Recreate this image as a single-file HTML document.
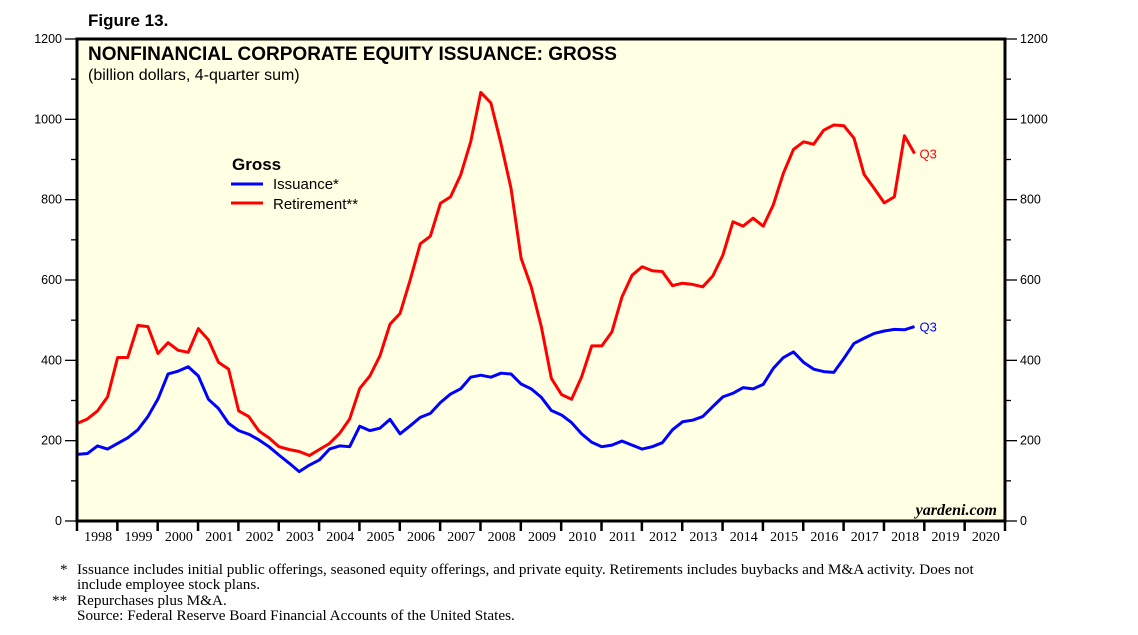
<!DOCTYPE html>
<html><head><meta charset="utf-8"><style>
body{margin:0;background:#fff;width:1138px;height:635px;overflow:hidden;}
svg{display:block}
.sans{font-family:"Liberation Sans",sans-serif}
.serif{font-family:"Liberation Serif",serif}
</style></head><body>
<svg width="1138" height="635" viewBox="0 0 1138 635">
<text x="88" y="26" class="sans" font-weight="bold" font-size="17">Figure 13.</text>
<rect x="77" y="39" width="928" height="482" fill="#FFFFE4"/>
<g id="axes"></g>
<g id="series"></g>
<rect x="77" y="39" width="928" height="482" fill="none" stroke="#000" stroke-width="3"/>
<text x="88" y="60" class="sans" font-weight="bold" font-size="19">NONFINANCIAL CORPORATE EQUITY ISSUANCE: GROSS</text>
<text x="88" y="80" class="sans" font-size="16">(billion dollars, 4-quarter sum)</text>
<g>
<text x="232" y="170" class="sans" font-weight="bold" font-size="17">Gross</text>
<line x1="231" y1="184" x2="263" y2="184" stroke="#0000ff" stroke-width="3"/>
<text x="273" y="189" class="sans" font-size="15">Issuance*</text>
<line x1="231" y1="203" x2="263" y2="203" stroke="#ff0000" stroke-width="3"/>
<text x="273" y="209" class="sans" font-size="15">Retirement**</text>
</g>
<text x="997" y="515" text-anchor="end" class="serif" font-style="italic" font-weight="bold" font-size="16">yardeni.com</text>
<g class="serif" font-size="15.2">
<text x="60" y="574">*</text>
<text x="77" y="574">Issuance includes initial public offerings, seasoned equity offerings, and private equity. Retirements includes buybacks and M&amp;A activity. Does not</text>
<text x="77" y="589">include employee stock plans.</text>
<text x="52" y="605">**</text>
<text x="77" y="605">Repurchases plus M&amp;A.</text>
<text x="77" y="620">Source: Federal Reserve Board Financial Accounts of the United States.</text>
</g>
</svg>
<script>
const years=[1998,1999,2000,2001,2002,2003,2004,2005,2006,2007,2008,2009,2010,2011,2012,2013,2014,2015,2016,2017,2018,2019,2020];
const yTicks=[0,200,400,600,800,1000,1200];
const issuance=[166,168,187,179,193,207,227,260,304,366,373,384,361,303,280,243,225,216,202,185,164,144,123,139,152,179,187,185,236,225,231,253,217,237,258,268,295,316,329,358,363,358,368,366,341,329,308,275,264,245,217,196,185,189,199,189,179,185,195,227,247,251,260,285,309,318,332,329,340,380,407,421,395,378,372,370,405,442,455,467,473,477,476,484];
const retirement=[243,254,274,309,407,407,487,484,417,444,425,420,479,451,395,378,274,260,224,207,185,178,173,163,178,193,218,254,330,361,411,490,517,600,690,709,791,807,861,944,1067,1041,940,828,654,583,484,355,315,303,359,436,436,471,558,612,633,623,621,586,592,589,583,610,662,745,734,754,734,787,866,925,944,938,973,986,984,953,863,828,792,807,959,915];
const L=77,R=1005,T=39,B=521,YW=(R-L)/23;
const ys=v=>B-(v/1200)*(B-T);
const xq=i=>L+(i*0.25)*YW+0.3;
const NS='http://www.w3.org/2000/svg';
const ax=document.getElementById('axes'),se=document.getElementById('series');
function mk(tag,attrs,parent){const e=document.createElementNS(NS,tag);for(const k in attrs)e.setAttribute(k,attrs[k]);parent.appendChild(e);return e;}
for(let v=0;v<=1200;v+=100){
  const y=ys(v),maj=v%200===0;
  const t1=mk('line',{x1:maj?65:71,x2:L,y1:y,y2:y,stroke:'#000','stroke-width':1.3},ax);
  
  
  const t2=mk('line',{x1:R,x2:maj?1017:1011,y1:y,y2:y,stroke:'#000','stroke-width':1.3},ax);
  
  
}
yTicks.forEach(v=>{
  const a=mk('text',{x:62,y:ys(v)+4,'text-anchor':'end','font-size':12.5,'font-family':'Liberation Sans,sans-serif'},ax);a.textContent=v;
  
  
  const b=mk('text',{x:1020,y:ys(v)+4,'font-size':12.5,'font-family':'Liberation Sans,sans-serif'},ax);b.textContent=v;
  
  
});
years.forEach((yr,i)=>{
  const x=L+i*YW;
  const t=mk('line',{x1:x,x2:x,y1:B,y2:B+10,stroke:'#000','stroke-width':2.5},ax);
  
  
  const l=mk('text',{x:x+YW/2+1,y:B+20,'text-anchor':'middle','font-size':14,'font-family':'Liberation Serif,serif'},ax);l.textContent=yr;
  
  
});
mk('line',{x1:R,x2:R,y1:B,y2:B+10,stroke:'#000','stroke-width':2.5},ax);
function series(arr,color,name){
  const p=mk('polyline',{points:arr.map((v,i)=>xq(i)+','+ys(v)).join(' '),fill:'none',stroke:color,'stroke-width':3,'stroke-linejoin':'round'},se);
  
  
  const n=arr.length-1;
  const q=mk('text',{x:xq(n)+5,y:ys(arr[n])+5,fill:color,'font-size':13,'font-family':'Liberation Sans,sans-serif'},se);q.textContent='Q3';
  
  
}
series(retirement,'#ff0000','retirement-line');
series(issuance,'#0000ff','issuance-line');
</script>
</body></html>
